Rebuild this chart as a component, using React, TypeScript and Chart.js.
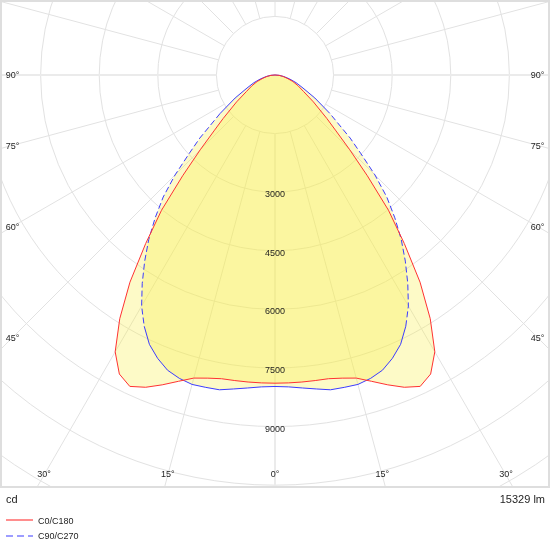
import { useEffect, useRef } from "react";
import { Chart, registerables } from "chart.js";

Chart.register(...registerables);

// gamma angles (degrees from nadir) and luminous intensities (cd)
const gammaAngles = [0, 2.5, 5, 7.5, 10, 12.5, 15, 17.5, 20, 22.5, 25, 27.5, 30, 32.5, 35, 37.5, 40, 42.5, 45, 47.5, 50, 55, 60, 65, 70, 75, 80, 85, 90];
const c0c180 = [7889, 7889, 7889, 7889, 7894, 7948, 8032, 8221, 8440, 8652, 8795, 8629, 8182, 7396, 6474, 5438, 4519, 3498, 2706, 2119, 1733, 1200, 842, 651, 485, 319, 204, 102, 0];
const c90c270 = [7973, 7991, 8042, 8106, 8182, 8190, 8200, 8142, 8042, 7851, 7608, 7251, 6829, 6326, 5816, 5310, 4772, 4235, 3618, 2987, 2512, 1713, 1179, 791, 574, 383, 230, 115, 0];

const seriesNames = ["C0/C180", "C90/C270"];
const ringValues = [1500, 3000, 4500, 6000, 7500, 9000, 10500, 12000];
const ringLabelValues = [3000, 4500, 6000, 7500, 9000];
const sideAngleLabels = [90, 75, 60, 45];
const bottomAngleLabels = [30, 15, 0];
const unitLabel = "cd";
const fluxLabel = "15329 lm";

const RED = "rgb(255,50,50)";
const BLUE = "rgb(60,60,255)";
const FILL = "rgba(248,238,70,0.3)";
const GRID = "#e2e2e2";
const TEXT = "#1e1e1e";
const FONT_SMALL = "9px 'Liberation Sans', Arial, sans-serif";
const FONT_MID = "11px 'Liberation Sans', Arial, sans-serif";

function buildCurve(values: number[]) {
  const pts: { x: number; y: number }[] = [];
  const angs: number[] = [];
  for (let i = gammaAngles.length - 1; i >= 0; i--) {
    const g = (gammaAngles[i] * Math.PI) / 180;
    pts.push({ x: -values[i] * Math.sin(g), y: -values[i] * Math.cos(g) });
    angs.push(gammaAngles[i]);
  }
  for (let i = 1; i < gammaAngles.length; i++) {
    const g = (gammaAngles[i] * Math.PI) / 180;
    pts.push({ x: values[i] * Math.sin(g), y: -values[i] * Math.cos(g) });
    angs.push(gammaAngles[i]);
  }
  return { pts, angs };
}

const photometricPlugin = {
  id: "photometric",
  beforeDatasetsDraw(chart: any) {
    const { ctx, chartArea: a, scales } = chart;
    const xs = scales.x;
    const ys = scales.y;
    const cx = xs.getPixelForValue(0);
    const cy = ys.getPixelForValue(0);
    const k = (xs.getPixelForValue(1000) - cx) / 1000;
    ctx.save();
    ctx.beginPath();
    ctx.rect(a.left, a.top, a.right - a.left, a.bottom - a.top);
    ctx.clip();
    ctx.fillStyle = "#ffffff";
    ctx.fillRect(a.left, a.top, a.right - a.left, a.bottom - a.top);
    ctx.strokeStyle = GRID;
    ctx.lineWidth = 1;
    for (const v of ringValues) {
      ctx.beginPath();
      ctx.arc(cx, cy, v * k, 0, Math.PI * 2);
      ctx.stroke();
    }
    const r0 = ringValues[0] * k;
    for (let d = 0; d < 360; d += 15) {
      const t = (d * Math.PI) / 180;
      const sx = Math.sin(t);
      const sy = Math.cos(t);
      const major = d === 90 || d === 270 || d === 0;
      ctx.lineWidth = major ? 2 : 1;
      ctx.strokeStyle = major ? "#ebebeb" : GRID;
      ctx.beginPath();
      ctx.moveTo(cx + sx * r0, cy + sy * r0);
      ctx.lineTo(cx + sx * 1200, cy + sy * 1200);
      ctx.stroke();
    }
    chart.data.datasets.forEach((_ds: any, i: number) => {
      const meta = chart.getDatasetMeta(i);
      ctx.beginPath();
      meta.data.forEach((p: any, j: number) => {
        if (j === 0) ctx.moveTo(p.x, p.y);
        else ctx.lineTo(p.x, p.y);
      });
      ctx.closePath();
      ctx.fillStyle = FILL;
      ctx.fill();
    });
    ctx.restore();
  },
  afterDatasetsDraw(chart: any) {
    const { ctx, chartArea: a, scales } = chart;
    const xs = scales.x;
    const ys = scales.y;
    const cx = xs.getPixelForValue(0);
    const cy = ys.getPixelForValue(0);
    const k = (xs.getPixelForValue(1000) - cx) / 1000;
    ctx.save();
    // frame
    ctx.strokeStyle = "#dedede";
    ctx.lineWidth = 2;
    ctx.strokeRect(a.left, a.top, a.right - a.left, a.bottom - a.top);

    ctx.fillStyle = TEXT;
    ctx.font = FONT_SMALL;
    ctx.textAlign = "center";
    ctx.textBaseline = "middle";
    for (const v of ringLabelValues) {
      ctx.fillText(String(v), cx, cy + v * k + 2.5);
    }
    const xL = a.left + 11.5;
    const xR = a.right - 11.5;
    for (const deg of sideAngleLabels) {
      const t = (deg * Math.PI) / 180;
      const dist = (cx - xL) / Math.sin(t);
      const y = cy + dist * Math.cos(t) + 1;
      ctx.fillText(deg + "°", xL, y);
      ctx.fillText(deg + "°", xR, y);
    }
    const yB = a.bottom - 12;
    for (const deg of bottomAngleLabels) {
      const t = (deg * Math.PI) / 180;
      const dist = (yB - cy) / Math.cos(t);
      const dx = dist * Math.sin(t);
      ctx.fillText(deg + "°", cx - dx, yB);
      if (deg !== 0) ctx.fillText(deg + "°", cx + dx, yB);
    }

    ctx.font = FONT_MID;
    ctx.textBaseline = "alphabetic";
    ctx.textAlign = "left";
    ctx.fillText(unitLabel, 6, a.bottom + 16);
    ctx.textAlign = "right";
    ctx.fillText(fluxLabel, a.right - 4, a.bottom + 16);

    // legend
    const ly0 = a.bottom + 33;
    const ly1 = a.bottom + 49;
    ctx.lineWidth = 2;
    ctx.strokeStyle = "rgba(255,50,50,0.55)";
    ctx.setLineDash([]);
    ctx.beginPath();
    ctx.moveTo(6, ly0);
    ctx.lineTo(33, ly0);
    ctx.stroke();
    ctx.strokeStyle = "rgba(60,60,255,0.5)";
    ctx.setLineDash([7, 4]);
    ctx.beginPath();
    ctx.moveTo(6, ly1);
    ctx.lineTo(33, ly1);
    ctx.stroke();
    ctx.setLineDash([]);
    ctx.font = FONT_SMALL;
    ctx.textAlign = "left";
    ctx.textBaseline = "middle";
    ctx.fillStyle = TEXT;
    ctx.fillText(seriesNames[0], 38, ly0 + 1.5);
    ctx.fillText(seriesNames[1], 38, ly1 + 1);
    ctx.restore();
  },
};

export default function App() {
  const canvasRef = useRef<HTMLCanvasElement | null>(null);

  useEffect(() => {
    const canvas = canvasRef.current;
    if (!canvas) return;
    const red = buildCurve(c0c180);
    const blue = buildCurve(c90c270);
    const chart = new Chart(canvas, {
      type: "scatter",
      data: {
        datasets: [
          {
            label: seriesNames[0],
            data: red.pts,
            showLine: true,
            borderColor: RED,
            borderWidth: 1,
            pointRadius: 0,
            pointHoverRadius: 0,
            fill: false,
            tension: 0,
          },
          {
            label: seriesNames[1],
            data: blue.pts,
            showLine: true,
            borderColor: BLUE,
            borderWidth: 1,
            borderDash: [],
            pointRadius: 0,
            pointHoverRadius: 0,
            fill: false,
            tension: 0,
            segment: {
              borderDash: (c: any) => {
                const m = (blue.angs[c.p0DataIndex] + blue.angs[c.p1DataIndex]) / 2;
                return m > 27 && m < 56 ? [6, 3] : undefined;
              },
            },
          },
        ],
      },
      options: {
        animation: false,
        responsive: false,
        events: [],
        layout: { padding: { left: 1, right: 1, top: 1, bottom: 63 } },
        scales: {
          x: { type: "linear", min: -7014, max: 7014, display: false },
          y: { type: "linear", min: -10546, max: 1894, display: false },
        },
        plugins: {
          legend: { display: false },
          tooltip: { enabled: false },
        },
      },
      plugins: [photometricPlugin],
    } as any);
    return () => chart.destroy();
  }, []);

  return (
    <div style={{ position: "fixed", left: 0, top: 0, width: 550, height: 550, background: "#ffffff" }}>
      <canvas ref={canvasRef} width={550} height={550} style={{ display: "block", width: 550, height: 550 }} />
    </div>
  );
}
